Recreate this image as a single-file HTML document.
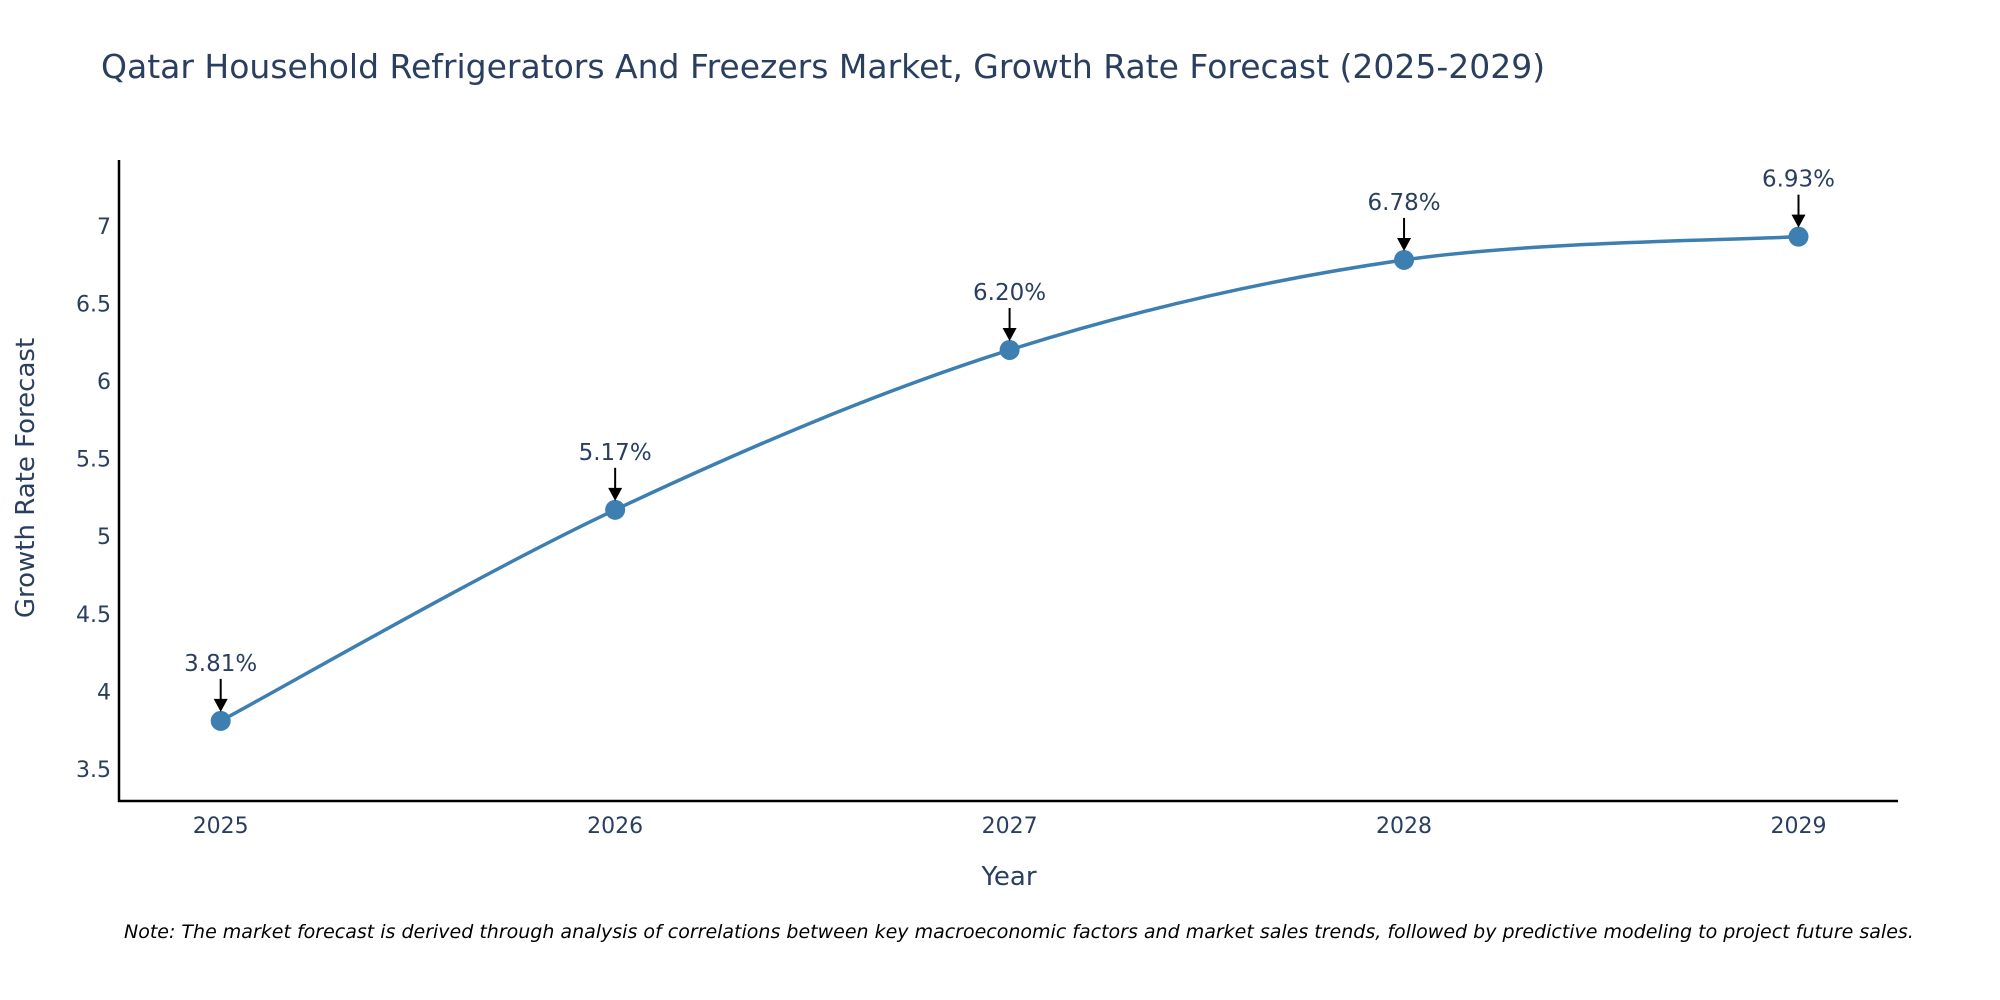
<!DOCTYPE html>
<html><head><meta charset="utf-8"><style>
html,body{margin:0;padding:0;background:#fff;}
svg{display:block;font-family:"DejaVu Sans","Liberation Sans",sans-serif;}
</style></head><body>
<svg id="chart" width="2000" height="1000" viewBox="0 0 2000 1000">
<text x="101" y="78" font-size="33" fill="#2a3f5f">Qatar Household Refrigerators And Freezers Market, Growth Rate Forecast (2025-2029)</text>
<g id="yticks"></g>
<g id="xticks"></g>
<line x1="119" y1="160" x2="119" y2="802" stroke="#000" stroke-width="2.5"/>
<line x1="118" y1="801" x2="1898" y2="801" stroke="#000" stroke-width="2.5"/>
<path id="line" fill="none" stroke="#3d7fb1" stroke-width="3.5"/>
<g id="marks"></g>
<text transform="translate(34,478) rotate(-90)" text-anchor="middle" font-size="26" fill="#2a3f5f">Growth Rate Forecast</text>
<text x="1009" y="885" text-anchor="middle" font-size="26" fill="#2a3f5f">Year</text>
<text x="124" y="938" font-size="19" font-style="italic" fill="#000">Note: The market forecast is derived through analysis of correlations between key macroeconomic factors and market sales trends, followed by predictive modeling to project future sales.</text>
</svg>
<script>
const years = [2025, 2026, 2027, 2028, 2029];
const values = [3.81, 5.17, 6.20, 6.78, 6.93];
const labels = ["3.81%", "5.17%", "6.20%", "6.78%", "6.93%"];
const yTickVals = [3.5, 4, 4.5, 5, 5.5, 6, 6.5, 7];
const yTickLabels = ["3.5", "4", "4.5", "5", "5.5", "6", "6.5", "7"];
const NS = "http://www.w3.org/2000/svg";
const xs = v => 220.7 + (v - 2025) * (1798.5 - 220.7) / 4;
const ys = v => 769 - (v - 3.5) * 155.2;
function mk(tag, attrs, parent, txt) {
  const e = document.createElementNS(NS, tag);
  for (const k in attrs) e.setAttribute(k, attrs[k]);
  if (txt !== undefined) e.textContent = txt;
  parent.appendChild(e);
  return e;
}
const yg = document.getElementById('yticks');
yTickVals.forEach((v, i) => {
  const t = mk('text', {x: 111, y: ys(v) + 8, 'text-anchor': 'end', 'font-size': 22, fill: '#2a3f5f'}, yg, yTickLabels[i]);
  
  
});
const xg = document.getElementById('xticks');
years.forEach(y => {
  const t = mk('text', {x: xs(y), y: 833, 'text-anchor': 'middle', 'font-size': 22, fill: '#2a3f5f'}, xg, String(y));
  
  
});
const pts = years.map((y, i) => [xs(y), ys(values[i])]);
let d = `M${pts[0][0]},${pts[0][1]}`;
for (let i = 0; i < pts.length - 1; i++) {
  const p0 = pts[i - 1] || pts[i], p1 = pts[i], p2 = pts[i + 1], p3 = pts[i + 2] || pts[i + 1];
  const c1 = [p1[0] + (p2[0] - p0[0]) / 6, p1[1] + (p2[1] - p0[1]) / 6];
  const c2 = [p2[0] - (p3[0] - p1[0]) / 6, p2[1] - (p3[1] - p1[1]) / 6];
  d += ` C${c1[0]},${c1[1]} ${c2[0]},${c2[1]} ${p2[0]},${p2[1]}`;
}
document.getElementById('line').setAttribute('d', d);
const mg = document.getElementById('marks');
pts.forEach((p, i) => {
  const c = mk('circle', {cx: p[0], cy: p[1], r: 10, fill: '#3d7fb1'}, mg);
  
  
  const l = mk('line', {x1: p[0], y1: p[1] - 42, x2: p[0], y2: p[1] - 20, stroke: '#000', 'stroke-width': 2}, mg);
  
  
  const h = mk('polygon', {points: `${p[0]-7},${p[1]-22} ${p[0]+7},${p[1]-22} ${p[0]},${p[1]-9}`, fill: '#000'}, mg);
  
  
  const t = mk('text', {x: p[0], y: p[1] - 50, 'text-anchor': 'middle', 'font-size': 23, fill: '#2a3f5f'}, mg, labels[i]);
  
  
});
</script>
</body></html>
